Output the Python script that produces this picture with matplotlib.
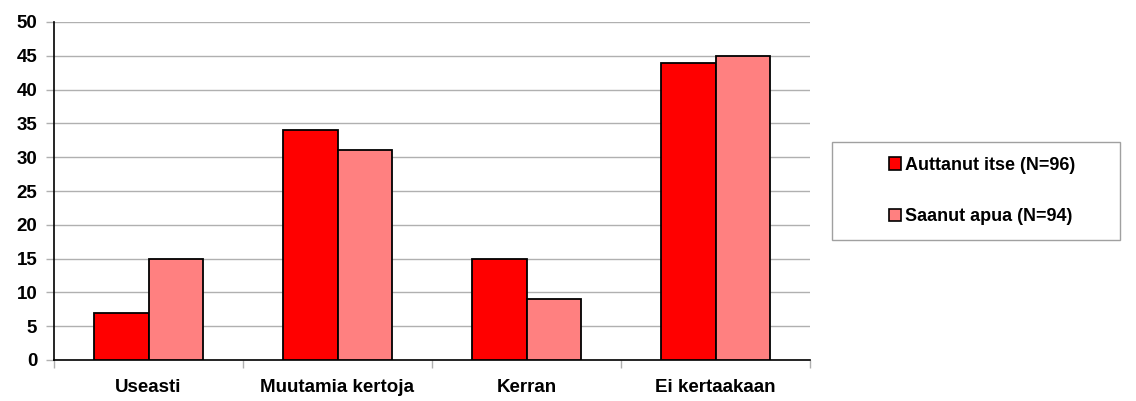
import matplotlib
matplotlib.use('Agg')
import matplotlib.pyplot as plt
import numpy as np
from matplotlib.patches import Patch, Rectangle

categories = ['Useasti', 'Muutamia kertoja', 'Kerran', 'Ei kertaakaan']
auttanut = [7, 34, 15, 44]
saanut = [15, 31, 9, 45]
labels = ['Auttanut itse (N=96)', 'Saanut apua (N=94)']
colors = ['#FF0000', '#FF8080']

plt.rcParams['font.family'] = ['Liberation Sans', 'DejaVu Sans']
plt.rcParams['font.weight'] = 'bold'

fig = plt.figure(figsize=(11.36, 4.01), dpi=100)
ax = fig.add_axes([54 / 1136, 41 / 401, 756 / 1136, 338 / 401])

x = np.arange(len(categories))
w = 0.286
ax.bar(x - w / 2, auttanut, w, color=colors[0], edgecolor='black', linewidth=1.3, zorder=3)
ax.bar(x + w / 2, saanut, w, color=colors[1], edgecolor='black', linewidth=1.3, zorder=3)

ax.set_xlim(-0.5, len(categories) - 0.5)
ax.set_ylim(0, 50)
ax.set_yticks(range(0, 51, 5))
ax.set_yticklabels([str(v) for v in range(0, 51, 5)], fontweight='bold')
ax.yaxis.grid(True, color='#b0b0b0', linewidth=1, zorder=0)
ax.tick_params(axis='y', length=6, width=1, color='#b0b0b0', labelsize=13.5, pad=6)

ax.set_xticks(x)
ax.set_xticklabels(categories, fontsize=13.5, fontweight='bold')
ax.tick_params(axis='x', length=0, pad=14)
ax.set_xticks(np.arange(-0.5, len(categories), 1), minor=True)
ax.tick_params(axis='x', which='minor', length=6, color='#b0b0b0', width=1)

for s in ['top', 'right']:
    ax.spines[s].set_visible(False)
ax.spines['left'].set_color('black')
ax.spines['bottom'].set_color('black')
ax.spines['left'].set_linewidth(1.2)
ax.spines['bottom'].set_linewidth(1.2)

# legend frame drawn separately, it is wider than the entries
fig.patches.append(Rectangle((832 / 1136, 1 - 240 / 401), 288 / 1136, 98 / 401,
                             transform=fig.transFigure, fill=False,
                             edgecolor='#a0a0a0', linewidth=1))
handles = [Patch(facecolor=c, edgecolor='black', linewidth=1.2) for c in colors]
leg = fig.legend(handles, labels, loc='center', bbox_to_anchor=(982 / 1136, 1 - 191 / 401),
                 frameon=False, fontsize=13,
                 handlelength=0.7, handleheight=0.7, handletextpad=0.2,
                 labelspacing=1.9, borderpad=0, borderaxespad=0)
for t in leg.get_texts():
    t.set_fontweight('bold')

fig.savefig('out.png', dpi=100)
